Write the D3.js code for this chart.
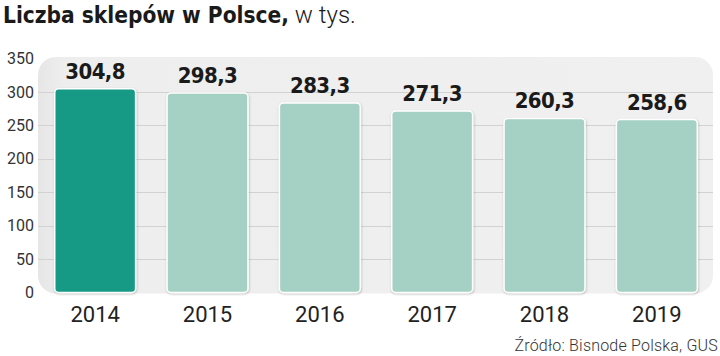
<!DOCTYPE html>
<html>
<head>
<meta charset="utf-8">
<script src="https://cdn.jsdelivr.net/npm/d3@7"></script>
<style>
  html, body { margin: 0; padding: 0; background: #fff; }
  svg { display: block; }
</style>
</head>
<body>
<div id="chart"></div>
<script>
const years = ['2014', '2015', '2016', '2017', '2018', '2019'];
const shops = [304.8, 298.3, 283.3, 271.3, 260.3, 258.6];
const yTicks = [0, 50, 100, 150, 200, 250, 300, 350];

const width = 720, height = 356;
const plot = { left: 39, right: 713, top: 57, bottom: 292.5, yTop: 58.5 };

const svg = d3.select('#chart').append('svg')
    .attr('width', width)
    .attr('height', height);

const x = d3.scaleBand()
    .domain(years)
    .range([plot.left, plot.right])
    .paddingInner(0.28)
    .paddingOuter(0.14);

const y = d3.scaleLinear()
    .domain([0, 350])
    .range([plot.bottom, plot.yTop]);

const defs = svg.append('defs');
const shadow = defs.append('filter').attr('id', 'shadow')
    .attr('x', -0.1).attr('y', -0.1).attr('width', 1.2).attr('height', 1.2);
shadow.append('feDropShadow')
    .attr('dx', 0.5).attr('dy', 1).attr('stdDeviation', 1)
    .attr('flood-color', '#000').attr('flood-opacity', 0.25);

const bgGrad = defs.append('linearGradient').attr('id', 'bg')
    .attr('x1', 0).attr('y1', 0).attr('x2', 1).attr('y2', 0);
bgGrad.append('stop').attr('offset', 0).attr('stop-color', '#e6e6e6');
bgGrad.append('stop').attr('offset', 0.04).attr('stop-color', '#eeeeee');
bgGrad.append('stop').attr('offset', 1).attr('stop-color', '#f0f0f0');

// title
const title = svg.append('text')
    .attr('x', 3)
    .attr('y', 23)
    .attr('fill', '#1a1a1a');
title.append('tspan')
    .style('font-family', '"DejaVu Sans Condensed", "DejaVu Sans", sans-serif')
    .style('font-weight', 'bold')
    .style('font-size', '22.5px')
    .text('Liczba sklepów w Polsce,');
title.append('tspan')
    .style('font-family', 'Roboto, sans-serif')
    .style('font-weight', 300)
    .style('font-size', '24px')
    .text(' w tys.');

// plot background
svg.append('rect')
    .attr('x', plot.left - 1)
    .attr('y', plot.top)
    .attr('width', plot.right - plot.left + 1)
    .attr('height', plot.bottom - plot.top + 1)
    .attr('rx', 18)
    .attr('fill', 'url(#bg)');

// gridlines
svg.append('g')
    .selectAll('line')
    .data(yTicks.filter(d => d > 0 && d < 350))
    .join('line')
    .attr('x1', plot.left - 1)
    .attr('x2', plot.right)
    .attr('y1', d => Math.round(y(d)) + 0.5)
    .attr('y2', d => Math.round(y(d)) + 0.5)
    .attr('stroke', '#d2d2d2')
    .attr('stroke-width', 1);

// y axis labels
const yAxis = svg.append('g')
    .attr('transform', 'translate(' + (plot.left - 5) + ',0)')
    .call(d3.axisLeft(y).tickValues(yTicks).tickSize(0).tickPadding(0));
yAxis.select('.domain').remove();
yAxis.selectAll('text')
    .style('font-family', 'Roboto, sans-serif')
    .style('font-size', '16px')
    .attr('fill', '#333');

// bars
svg.append('g')
    .selectAll('rect')
    .data(shops)
    .join('rect')
    .attr('x', (d, i) => x(years[i]))
    .attr('y', d => y(d))
    .attr('width', x.bandwidth())
    .attr('height', d => plot.bottom - y(d))
    .attr('rx', 4)
    .attr('fill', (d, i) => i === 0 ? '#179a86' : '#a5d1c5')
    .attr('stroke', '#fff')
    .attr('stroke-width', 1.5)
    .attr('filter', 'url(#shadow)');

// value labels
svg.append('g')
    .selectAll('text')
    .data(shops)
    .join('text')
    .attr('x', (d, i) => x(years[i]) + x.bandwidth() / 2)
    .attr('y', d => y(d) - 10)
    .attr('text-anchor', 'middle')
    .style('font-family', '"DejaVu Sans Condensed", "DejaVu Sans", sans-serif')
    .style('font-weight', 'bold')
    .style('font-size', '22px')
    .style('letter-spacing', '-0.6px')
    .attr('fill', '#1a1a1a')
    .text(d => d.toFixed(1).replace('.', ','));

// x axis labels
const xAxis = svg.append('g')
    .attr('transform', 'translate(0,' + plot.bottom + ')')
    .call(d3.axisBottom(x).tickSize(0).tickPadding(0));
xAxis.select('.domain').remove();
xAxis.selectAll('text')
    .attr('dy', null)
    .attr('y', 29)
    .style('font-family', 'Roboto, sans-serif')
    .style('font-size', '22px')
    .attr('fill', '#222');

// source
svg.append('text')
    .attr('x', 718)
    .attr('y', 351)
    .attr('text-anchor', 'end')
    .style('font-family', 'Roboto, sans-serif')
    .style('font-weight', 300)
    .style('font-size', '16px')
    .style('letter-spacing', '0.2px')
    .attr('fill', '#333')
    .text('Źródło: Bisnode Polska, GUS');
</script>
</body>
</html>
